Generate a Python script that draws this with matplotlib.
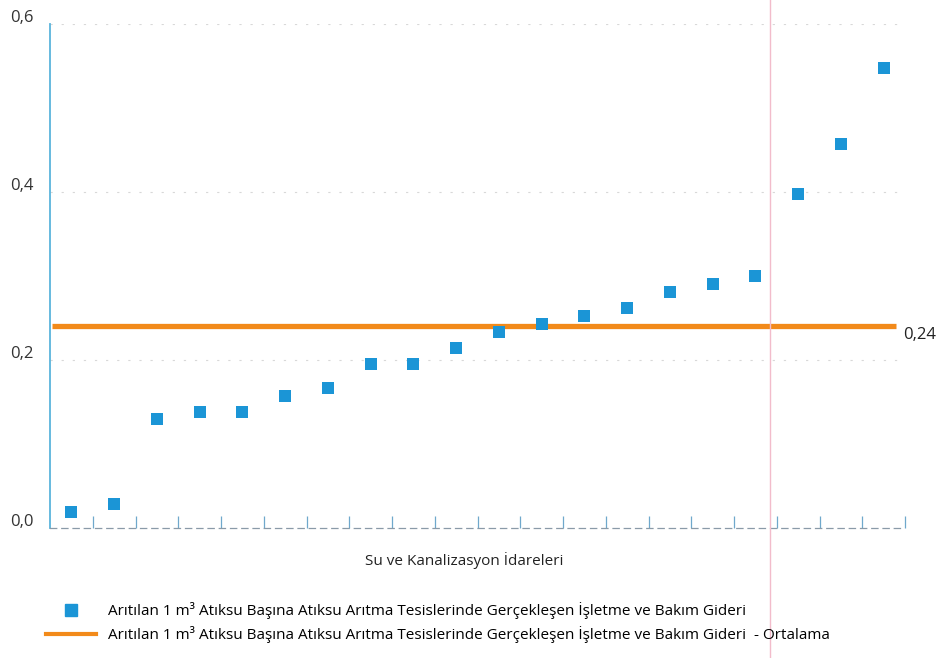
import matplotlib
matplotlib.use("Agg")
import matplotlib.pyplot as plt
from matplotlib.lines import Line2D
import matplotlib.transforms as mtransforms
import numpy as np

plt.rcParams['font.family'] = ['Open Sans', 'DejaVu Sans']

# Data
idareler = list(range(1, 21))
gider = [0.019, 0.029, 0.130, 0.138, 0.138, 0.157, 0.167, 0.195, 0.195, 0.214,
         0.233, 0.243, 0.252, 0.262, 0.281, 0.290, 0.300, 0.398, 0.457, 0.548]
ortalama = 0.24
y_ticks = [0.0, 0.2, 0.4, 0.6]
y_labels = ["0,0", "0,2", "0,4", "0,6"]
label_series = "Arıtılan 1 m³ Atıksu Başına Atıksu Arıtma Tesislerinde Gerçekleşen İşletme ve Bakım Gideri"
label_avg = "Arıtılan 1 m³ Atıksu Başına Atıksu Arıtma Tesislerinde Gerçekleşen İşletme ve Bakım Gideri  - Ortalama"
xlabel = "Su ve Kanalizasyon İdareleri"

W, H = 939, 658
fig = plt.figure(figsize=(W/100, H/100), dpi=100)
ax = fig.add_axes([50/W, 1-528/H, (905-50)/W, (528-24)/H])

x = np.arange(len(gider))
ax.set_xlim(-0.5, len(gider)-0.5)
ax.set_ylim(0, 0.6)

for yv in y_ticks[1:]:
    ax.axhline(yv, color='#d8d8d8', lw=0.8, ls=(0, (2, 8)), zorder=0)

ax.plot([-0.45, len(gider)-0.7], [ortalama, ortalama], color='#f28a1a', lw=3.8,
        solid_capstyle='butt', zorder=2)
ax.scatter(x, gider, marker='s', s=75, color='#1b95d6', zorder=3, linewidths=0)

down = mtransforms.ScaledTranslation(0, -6/72, fig.dpi_scale_trans)
ax.text(len(gider)-0.55, ortalama, "0,24", fontsize=12, va='center', ha='left',
        color='#222222', transform=ax.transData + down)

for s in ['top', 'right']:
    ax.spines[s].set_visible(False)
ax.spines['left'].set_color('#5ab4dc')
ax.spines['left'].set_linewidth(1.3)
ax.spines['bottom'].set_color('#8a9aa8')
ax.spines['bottom'].set_linewidth(0.9)
ax.spines['bottom'].set_linestyle((0, (5, 4)))

ax.set_yticks(y_ticks)
ax.set_yticklabels(y_labels, fontsize=12, color='#333333')
ax.tick_params(axis='y', length=0, pad=12)
up = mtransforms.ScaledTranslation(0, 6/72, fig.dpi_scale_trans)
for lbl in ax.get_yticklabels():
    lbl.set_transform(lbl.get_transform() + up)
ax.set_xticks(x + 0.5)
ax.set_xticklabels([])
ax.tick_params(axis='x', direction='in', length=9, width=0.9, color='#6fa8cc')

ax.set_xlabel(xlabel, fontsize=11, color='#222222', labelpad=14)
ax.xaxis.set_label_coords(0.485, -0.047)

handles = [Line2D([], [], marker='s', ls='none', color='#1b95d6', markersize=8),
           Line2D([], [], color='#f28a1a', lw=3)]
fig.legend(handles, [label_series, label_avg], loc='upper left',
           bbox_to_anchor=(46/W, 1-602/H), frameon=False, fontsize=11,
           handlelength=3.3, handletextpad=0.75, labelspacing=0.45,
           borderaxespad=0, borderpad=0)

fig.add_artist(Line2D([770/W, 770/W], [0, 1], transform=fig.transFigure,
                      color='#f2bccb', lw=1.0, zorder=5))

fig.savefig("out.png", dpi=100)
